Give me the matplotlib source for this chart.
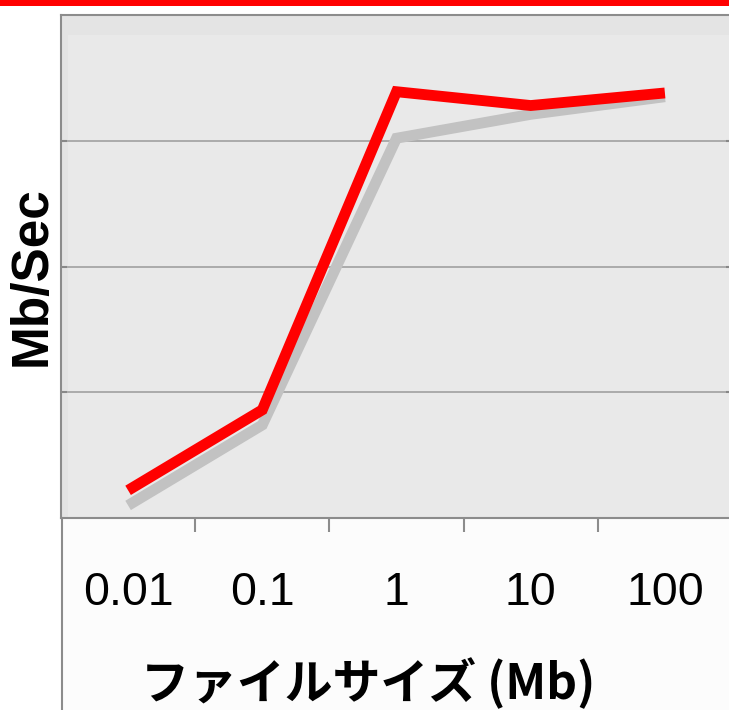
import matplotlib
matplotlib.use("Agg")
import matplotlib.pyplot as plt
from matplotlib.patches import Rectangle
from matplotlib.lines import Line2D

categories = ["0.01", "0.1", "1", "10", "100"]
red_values = [0.22, 0.86, 3.39, 3.28, 3.38]
gray_values = [0.10, 0.74, 3.02, 3.21, 3.35]
y_label = "Mb/Sec"
x_label = "ファイルサイズ (Mb)"

W, H = 729, 710
fig = plt.figure(figsize=(W / 100, H / 100), dpi=100)
fig.patch.set_facecolor("white")

# below-axis pale area
fig.add_artist(Rectangle((62 / W, 0), 1, (H - 518) / H, transform=fig.transFigure,
                         facecolor="#fcfcfc", edgecolor="none", zorder=0))
# red top bar
fig.add_artist(Rectangle((0, 1 - 6 / H), 1, 6 / H, transform=fig.transFigure,
                         facecolor="#ff0000", edgecolor="none", zorder=5))
# left frame line continuing below axis
fig.add_artist(Line2D([62 / W, 62 / W], [0, (H - 518) / H], transform=fig.transFigure,
                      color="#8c8c8c", lw=1.5, zorder=5))

ax = fig.add_axes([61 / W, (H - 518) / H, (732 - 61) / W, (518 - 15) / H])
ax.set_facecolor("#e4e4e4")
ax.add_patch(Rectangle((0.011, 0), 1, 0.961, transform=ax.transAxes,
                       facecolor="#e9e9e9", edgecolor="none", zorder=0))

x = list(range(len(categories)))
ax.plot(x, gray_values, color="#c2c2c2", lw=7.8, solid_capstyle="butt",
        solid_joinstyle="miter", zorder=3)
ax.plot(x, red_values, color="#ff0000", lw=7.8, solid_capstyle="butt",
        solid_joinstyle="miter", zorder=4)

ax.set_xlim(-0.5, 4.5)
ax.set_ylim(0, 4)

ax.set_yticks([1, 2, 3])
ax.yaxis.grid(True, color="#ababab", lw=1.4)
ax.set_axisbelow(True)
ax.tick_params(axis="y", direction="in", length=4.5, width=1.5, colors="#888888",
               left=True, right=True, labelleft=False)

ax.set_xticks(x)
ax.set_xticklabels(categories, fontsize=33.5, family="Liberation Sans")
ax.tick_params(axis="x", which="major", length=0, pad=38, labelcolor="black")
ax.set_xticks([0.5, 1.5, 2.5, 3.5], minor=True)
ax.tick_params(axis="x", which="minor", direction="out", length=10, width=1.5,
               color="#8c8c8c")

for s in ["left", "top", "bottom"]:
    ax.spines[s].set_color("#8c8c8c")
    ax.spines[s].set_linewidth(1.5)
ax.spines["right"].set_visible(False)

fig.text(32 / W, 1 - 276 / H, y_label, rotation=90, fontsize=37, fontweight="bold",
         ha="center", va="center", family="Liberation Sans")
fig.text(368 / W, 1 - 683 / H, x_label, fontsize=34.5, fontweight="bold",
         ha="center", va="center", family=["Noto Sans CJK JP", "DejaVu Sans"])

fig.savefig("out.png", dpi=100)
